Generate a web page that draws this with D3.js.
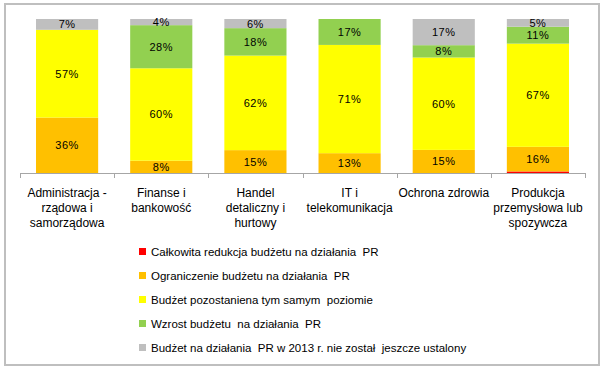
<!DOCTYPE html>
<html>
<head>
<meta charset="utf-8">
<script src="https://cdn.jsdelivr.net/npm/d3@7"></script>
<style>
  body { margin: 0; background: #fff; }
  svg { display: block; font-family: "Liberation Sans", Arial, sans-serif; }
</style>
</head>
<body>
<svg id="chart" width="606" height="374"></svg>
<script>
const categories = [
  ["Administracja -", "rządowa i", "samorządowa"],
  ["Finanse i", "bankowość"],
  ["Handel", "detaliczny i", "hurtowy"],
  ["IT i", "telekomunikacja"],
  ["Ochrona zdrowia"],
  ["Produkcja", "przemysłowa lub", "spozywcza"]
];
const seriesNames = [
  "Całkowita redukcja budżetu na działania  PR",
  "Ograniczenie budżetu na działania  PR",
  "Budżet pozostaniena tym samym  poziomie",
  "Wzrost budżetu  na działania  PR",
  "Budżet na działania  PR w 2013 r. nie został  jeszcze ustalony"
];
const colors = ["#ff0000", "#ffc000", "#ffff00", "#92d050", "#bfbfbf"];
const reduction = [0, 0, 0, 0, 0, 1];
const limit     = [36, 8, 15, 13, 15, 16];
const same      = [57, 60, 62, 71, 60, 67];
const increase  = [0, 28, 18, 17, 8, 11];
const unknown   = [7, 4, 6, 0, 17, 5];
const seriesValues = [reduction, limit, same, increase, unknown];

const svg = d3.select("#chart");

// frame
svg.append("rect")
  .attr("x", 5).attr("y", 4).attr("width", 594).attr("height", 361)
  .attr("fill", "#fff").attr("stroke", "#bfbfbf").attr("stroke-width", 2);

const rows = categories.map((c, i) => {
  const r = { key: i };
  seriesValues.forEach((s, j) => r[j] = s[i]);
  return r;
});
const stacked = d3.stack().keys(d3.range(seriesValues.length)).offset(d3.stackOffsetExpand)(rows);

const x = d3.scaleBand().domain(d3.range(categories.length)).range([20, 585]).paddingInner(0.34).paddingOuter(0.17);
const y = d3.scaleLinear().domain([0, 1]).range([173, 19]);

const g = svg.append("g");
stacked.forEach((layer, j) => {
  g.selectAll(null).data(layer).enter().append("rect")
    .attr("x", (d, i) => x(i))
    .attr("width", x.bandwidth())
    .attr("y", d => y(d[1]))
    .attr("height", d => y(d[0]) - y(d[1]))
    .attr("fill", colors[j]);

  g.selectAll(null).data(layer.filter((d, i) => seriesValues[j][i] >= 3)).enter().append("text")
    .attr("x", d => x(d.data.key) + x.bandwidth() / 2)
    .attr("y", d => (y(d[0]) + y(d[1])) / 2 + 4)
    .attr("text-anchor", "middle")
    .attr("font-size", "11px")
    .attr("letter-spacing", "0.5px")
    .attr("fill", "#000")
    .text(d => seriesValues[j][d.data.key] + "%");
});

// axis with ticks between categories
const axis = svg.append("g").attr("stroke", "#a6a6a6").attr("stroke-width", 1);
axis.append("line").attr("x1", 20).attr("x2", 585).attr("y1", 173.5).attr("y2", 173.5);
d3.range(categories.length + 1).forEach(i => {
  const tx = Math.round(20 + i * (565 / categories.length)) + 0.5;
  axis.append("line").attr("x1", tx).attr("x2", tx).attr("y1", 173).attr("y2", 178);
});

categories.forEach((lines, i) => {
  const cx = x(i) + x.bandwidth() / 2;
  const t = svg.append("text")
    .attr("x", cx)
    .attr("y", 197)
    .attr("text-anchor", "middle")
    .attr("font-size", "12px")
    .attr("fill", "#000");
  lines.forEach((l, k) => t.append("tspan").attr("x", cx).attr("dy", k === 0 ? 0 : 15).text(l));
});

// legend
const legend = svg.append("g");
seriesNames.forEach((name, j) => {
  const ly = 252 + j * 24;
  legend.append("rect").attr("x", 139).attr("y", ly - 4).attr("width", 7).attr("height", 7).attr("fill", colors[j]);
  legend.append("text").attr("x", 151).attr("y", ly + 4)
    .attr("font-size", "11.5px").attr("fill", "#000")
    .style("white-space", "pre")
    .text(name);
});
</script>
</body>
</html>
